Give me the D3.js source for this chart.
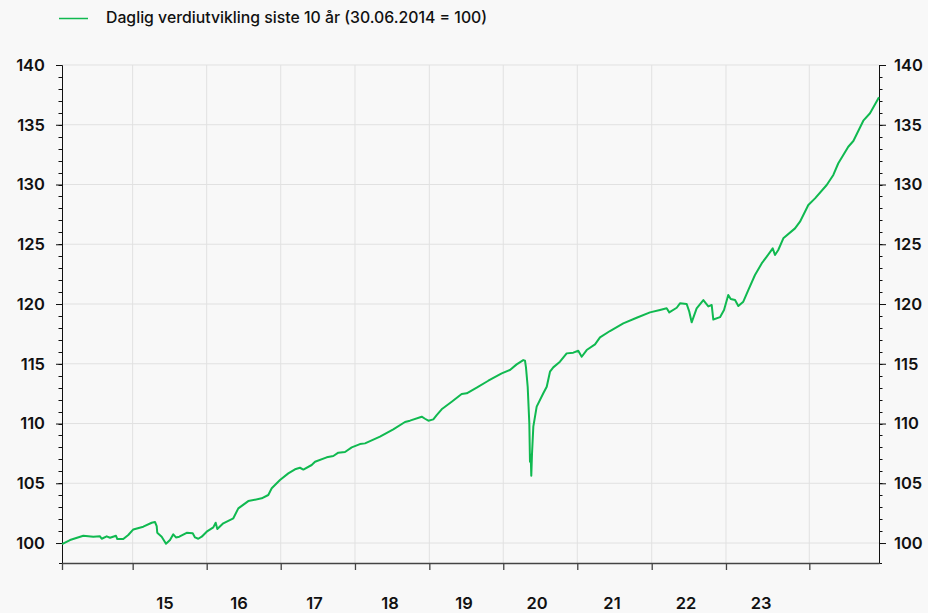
<!DOCTYPE html>
<html>
<head>
<meta charset="utf-8">
<script src="https://cdn.jsdelivr.net/npm/d3@7/dist/d3.min.js"></script>
<style>
  html, body { margin: 0; padding: 0; background: #f8f8f8; }
  svg { display: block; }
  text { font-family: Inter, "Noto Sans", sans-serif; fill: #111; }
</style>
</head>
<body>
<svg id="chart" width="928" height="613"></svg>
<script>
// ---- DATA (decimal year, index value with 30.06.2014 = 100) ----
const seriesName = "Daglig verdiutvikling siste 10 år (30.06.2014 = 100)";
const years = [
  2014.496, 2014.594, 2014.757, 2014.879, 2014.961, 2014.982, 2015.043, 2015.084, 2015.157, 2015.173,
  2015.246, 2015.307, 2015.369, 2015.491, 2015.594, 2015.634, 2015.655, 2015.662, 2015.716, 2015.769,
  2015.818, 2015.858, 2015.891, 2015.932, 2016.022, 2016.096, 2016.124, 2016.164, 2016.206, 2016.267,
  2016.348, 2016.377, 2016.397, 2016.470, 2016.593, 2016.654, 2016.776, 2016.940, 2017.021, 2017.063,
  2017.164, 2017.266, 2017.348, 2017.409, 2017.450, 2017.552, 2017.593, 2017.736, 2017.817, 2017.878,
  2017.960, 2018.042, 2018.143, 2018.205, 2018.388, 2018.551, 2018.694, 2018.755, 2018.899, 2018.939,
  2018.980, 2019.041, 2019.082, 2019.143, 2019.266, 2019.388, 2019.450, 2019.572, 2019.714, 2019.878,
  2019.979, 2020.061, 2020.142, 2020.163, 2020.175, 2020.196, 2020.216, 2020.224, 2020.233, 2020.240,
  2020.249, 2020.265, 2020.306, 2020.387, 2020.429, 2020.469, 2020.509, 2020.591, 2020.673, 2020.754,
  2020.815, 2020.857, 2020.918, 2021.020, 2021.081, 2021.203, 2021.366, 2021.530, 2021.693, 2021.815,
  2021.897, 2021.929, 2022.020, 2022.060, 2022.142, 2022.174, 2022.203, 2022.264, 2022.346, 2022.407,
  2022.448, 2022.468, 2022.550, 2022.599, 2022.651, 2022.681, 2022.734, 2022.774, 2022.835, 2022.896,
  2022.978, 2023.060, 2023.122, 2023.195, 2023.223, 2023.263, 2023.325, 2023.468, 2023.529, 2023.631,
  2023.713, 2023.856, 2023.937, 2023.998, 2024.120, 2024.182, 2024.304, 2024.386, 2024.496
];
const values = [
  99.90, 100.25, 100.61, 100.53, 100.56, 100.36, 100.56, 100.44, 100.61, 100.33,
  100.33, 100.67, 101.14, 101.37, 101.70, 101.76, 101.42, 100.86, 100.53, 99.94,
  100.25, 100.73, 100.47, 100.53, 100.86, 100.81, 100.47, 100.36, 100.53, 100.95,
  101.31, 101.70, 101.17, 101.65, 102.07, 102.90, 103.51, 103.74, 104.02, 104.58,
  105.27, 105.83, 106.17, 106.30, 106.15, 106.53, 106.80, 107.17, 107.28, 107.56,
  107.62, 108.01, 108.28, 108.34, 108.90, 109.51, 110.13, 110.24, 110.57, 110.40,
  110.24, 110.35, 110.71, 111.19, 111.82, 112.47, 112.53, 113.00, 113.58, 114.20,
  114.48, 114.95, 115.31, 115.26, 114.70, 113.08, 110.02, 106.80, 107.40, 105.63,
  107.50, 109.74, 111.41, 112.53, 113.08, 114.34, 114.70, 115.17, 115.87, 115.93,
  116.09, 115.59, 116.15, 116.62, 117.21, 117.74, 118.38, 118.85, 119.30, 119.50,
  119.64, 119.30, 119.69, 120.06, 120.00, 119.36, 118.47, 119.64, 120.33, 119.80,
  119.92, 118.70, 118.90, 119.50, 120.75, 120.42, 120.33, 119.83, 120.20, 121.17,
  122.43, 123.40, 123.96, 124.66, 124.10, 124.52, 125.50, 126.33, 126.89, 128.28,
  128.84, 129.96, 130.80, 131.78, 133.16, 133.64, 135.34, 135.96, 137.30
];
const yTicks = [100, 105, 110, 115, 120, 125, 130, 135, 140];
const yMinorTicks = d3.range(100, 141, 1);
const xTicks = [2014.496, 2015.361, 2016.267, 2017.173, 2018.082, 2018.992, 2019.897, 2020.803, 2021.714, 2022.623, 2023.643];
const xLabels = ["15", "16", "17", "18", "19", "20", "21", "22", "23"];
const xLabelPos = [2015.757, 2016.662, 2017.587, 2018.511, 2019.416, 2020.310, 2021.228, 2022.134, 2023.052];

// ---- CHART ----
const svg = d3.select("#chart");
const green = "#10b950";

const x = d3.scaleLinear().domain([2014.496, 2024.496]).range([62, 879]);
const y = d3.scaleLinear().domain([98.33, 140]).range([563, 65]);

// background
svg.append("rect").attr("width", 928).attr("height", 613).attr("fill", "#f8f8f8");

// grid
const grid = svg.append("g");
grid.selectAll("line.h").data(yTicks).join("line")
  .attr("x1", x.range()[0]).attr("x2", x.range()[1])
  .attr("y1", d => y(d)).attr("y2", d => y(d))
  .attr("stroke", "#e1e1e1").attr("stroke-width", 1);
grid.selectAll("line.v").data(xTicks.slice(1)).join("line")
  .attr("x1", d => x(d)).attr("x2", d => x(d))
  .attr("y1", y(140)).attr("y2", y.range()[0])
  .attr("stroke", "#e1e1e1").attr("stroke-width", 1);

// minor ticks (left and right)
const minor = svg.append("g").attr("stroke", "#111").attr("stroke-width", 1);
minor.selectAll("line.l").data(yMinorTicks).join("line")
  .attr("x1", x.range()[0] - 3.5).attr("x2", x.range()[0])
  .attr("y1", d => Math.round(y(d)) + 0.5).attr("y2", d => Math.round(y(d)) + 0.5);
minor.selectAll("line.r").data(yMinorTicks).join("line")
  .attr("x1", x.range()[1]).attr("x2", x.range()[1] + 3.5)
  .attr("y1", d => Math.round(y(d)) + 0.5).attr("y2", d => Math.round(y(d)) + 0.5);

// left axis
const yAxisL = svg.append("g").attr("transform", `translate(${x.range()[0]},0)`)
  .call(d3.axisLeft(y).tickValues(yTicks).tickSize(6).tickSizeOuter(3).tickPadding(11));
// right axis
const yAxisR = svg.append("g").attr("transform", `translate(${x.range()[1]},0)`)
  .call(d3.axisRight(y).tickValues(yTicks).tickSize(7).tickSizeOuter(3).tickPadding(8));
[yAxisL, yAxisR].forEach(g => {
  g.select(".domain").attr("stroke", "#111");
  g.selectAll(".tick line").attr("stroke", "#111");
  g.selectAll(".tick text").attr("font-family", "Inter, sans-serif")
    .attr("font-size", 16.5).attr("font-weight", 600).attr("fill", "#111");
});

// bottom axis
const xAxis = svg.append("g").attr("transform", `translate(0,${y.range()[0]})`)
  .call(d3.axisBottom(x).tickValues(xTicks).tickSize(7).tickSizeOuter(0).tickFormat(""));
xAxis.select(".domain").attr("stroke", "#444").attr("stroke-width", 1.5);
xAxis.selectAll(".tick line").attr("stroke", "#444").attr("stroke-width", 1.3);

// x labels
svg.append("g").selectAll("text").data(xLabels).join("text")
  .attr("x", (d, i) => x(xLabelPos[i]))
  .attr("y", 609)
  .attr("text-anchor", "middle")
  .attr("font-size", 16.5).attr("font-weight", 600)
  .text(d => d);

// line
const line = d3.line().x((d, i) => x(years[i])).y(d => y(d));
svg.append("path").datum(values)
  .attr("d", line)
  .attr("fill", "none")
  .attr("stroke", green)
  .attr("stroke-width", 2)
  .attr("stroke-linejoin", "round");

// legend
const legend = svg.append("g");
legend.append("line").attr("x1", 59).attr("x2", 88).attr("y1", 18.5).attr("y2", 18.5)
  .attr("stroke", green).attr("stroke-width", 1.5);
legend.append("text").attr("x", 106).attr("y", 23)
  .attr("font-size", 15.8).attr("font-weight", 500)
  .text(seriesName);
</script>
</body>
</html>
